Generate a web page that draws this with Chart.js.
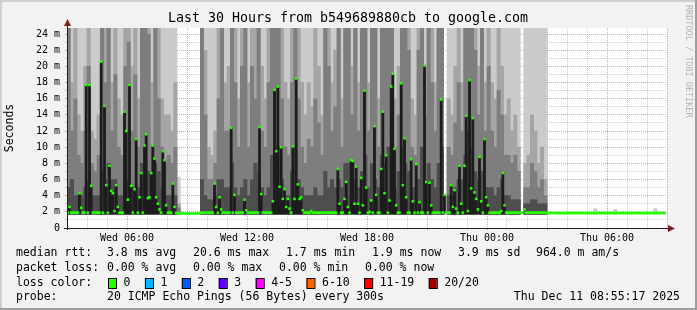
<!DOCTYPE html>
<html>
<head>
<meta charset="utf-8">
<title>Last 30 Hours from b549689880cb to google.com</title>
<script src="https://cdn.jsdelivr.net/npm/chart.js@4.4.1/dist/chart.umd.min.js"></script>
<style>
  html, body { margin: 0; padding: 0; background: #f2f2f2; }
  canvas { display: block; }
</style>
</head>
<body>
<canvas id="smokeChart" width="697" height="310"></canvas>
<script>
// time axis in hours since Wed 00:00
const startHour = 3;
const endHour = 33;
const yMax = 24.75;
const minRtt = 1.7; // lowest ping, the smoke starts here

const xTickHours = [6, 12, 18, 24, 30];
const xTickLabels = ['Wed 06:00', 'Wed 12:00', 'Wed 18:00', 'Thu 00:00', 'Thu 06:00'];
const yTickValues = [0, 2, 4, 6, 8, 10, 12, 14, 16, 18, 20, 22, 24];
const yTickLabels = ['0', '2 m', '4 m', '6 m', '8 m', '10 m', '12 m', '14 m', '16 m', '18 m', '20 m', '22 m', '24 m'];

// median rtt in ms, one value per 5 minutes, one row per hour (Wed 03:00 ...)
const medianRtt = [
    1.9, 2.6, 1.9, 1.9, 1.9, 1.9, 1.9, 4.3, 2.5, 1.9, 1.9, 17.7,
    1.9, 17.7, 5.2, 1.9, 1.9, 1.9, 1.9, 1.9, 20.6, 1.9, 15.1, 5.3,
    1.9, 7.7, 4.6, 4.3, 2.1, 5.3, 2.6, 1.9, 1.9, 1.9, 14.4, 12.0,
    3.5, 17.7, 5.2, 1.9, 4.8, 11.0, 1.9, 3.8, 6.8, 1.9, 10.2, 11.6,
    3.7, 3.8, 6.8, 10.2, 8.6, 3.8, 3.0, 2.3, 1.9, 9.5, 8.4, 2.8,
    1.9, 1.9, 1.9, 5.5, 2.6, 1.9, 1.8, 1.8, 1.8, 1.8, 1.8, 1.8,
    1.8, 1.8, 1.8, 1.8, 1.8, 1.8, 1.8, 1.8, 1.9, 1.9, 1.9, 1.9,
    1.9, 1.9, 1.9, 1.9, 5.5, 2.6, 1.9, 3.8, 2.3, 1.9, 1.9, 1.9,
    1.9, 1.9, 12.4, 1.9, 4.1, 1.9, 1.9, 1.9, 1.9, 1.9, 3.5, 2.2,
    1.9, 1.9, 1.9, 1.9, 1.9, 1.9, 1.9, 12.5, 4.2, 1.9, 1.9, 1.9,
    1.9, 1.9, 1.9, 3.3, 17.1, 9.5, 17.5, 5.1, 10.0, 3.6, 4.8, 2.6,
    3.6, 2.4, 1.9, 10.1, 3.6, 18.5, 5.4, 3.6, 3.8, 2.2, 1.9, 1.9,
    1.9, 1.9, 2.1, 1.9, 1.9, 1.9, 1.9, 1.9, 1.9, 1.9, 1.9, 1.9,
    1.9, 1.9, 1.9, 1.9, 1.9, 1.9, 7.3, 3.0, 1.9, 1.9, 3.6, 5.7,
    2.6, 1.9, 8.4, 8.3, 3.0, 7.6, 3.0, 1.9, 6.2, 2.8, 17.0, 5.0,
    1.9, 2.0, 3.4, 1.9, 12.6, 4.1, 1.9, 1.9, 7.3, 14.4, 4.3, 9.0,
    1.9, 3.4, 17.5, 19.1, 9.8, 2.8, 1.9, 1.9, 17.9, 5.3, 11.1, 3.8,
    1.9, 1.9, 8.5, 3.3, 1.9, 7.9, 1.9, 3.2, 1.9, 1.9, 20.1, 5.7,
    1.9, 5.6, 2.8, 1.9, 1.9, 1.9, 1.9, 1.9, 15.9, 1.9, 4.1, 1.9,
    1.9, 1.9, 5.3, 2.6, 4.7, 2.4, 1.9, 7.7, 3.0, 1.9, 7.7, 13.9,
    2.1, 18.3, 4.9, 13.6, 4.4, 3.6, 2.3, 8.8, 3.3, 1.9, 11.0, 3.8,
    2.8, 1.9, 1.9, 1.9, 1.9, 1.9, 1.9, 1.9, 2.1, 6.8, 2.8, 1.9,
    1.9, 1.9, 1.9, 1.9, 1.9, 1.9, 1.9, 1.9, 1.9, 1.9, 2.3, 1.9,
    1.9, 1.9, 1.9, 1.9, 1.9, 1.9, 1.9, 1.9, 1.9, 1.9, 1.9, 1.9,
    1.85, 1.85, 1.85, 1.85, 1.85, 1.85, 1.85, 1.85, 1.85, 1.85, 1.85, 1.85,
    1.85, 1.85, 1.85, 1.85, 1.85, 1.85, 1.85, 1.85, 1.85, 1.85, 1.85, 1.85,
    1.85, 1.85, 1.85, 1.85, 1.85, 1.85, 1.85, 1.85, 1.85, 1.85, 1.85, 1.85,
    1.85, 1.85, 1.85, 1.85, 1.85, 1.85, 1.85, 1.85, 1.85, 1.85, 1.85, 1.85,
    1.85, 1.85, 1.85, 1.85, 1.85, 1.85, 1.85, 1.85, 1.85, 1.85, 1.85, 1.85,
    1.85, 1.85, 1.85, 1.85, 1.85, 1.85, 1.85, 1.85, 1.85, 1.85, 1.85, null
];

// smoke: top of each grey band in ms, one value per 10 minutes, one row per hour
const smokeOuter = [
    25, 25, 25, 25, 25, 25,
    25, 25, 25, 25, 25, 25,
    25, 25, 25, 25, 25, 25,
    25, 25, 25, 25, 25, 25,
    25, 25, 25, 25, 25, 25,
    25, 25, 25, 6.3, 0, 0,
    0, 0, 0, 0, 25, 25,
    25, 25, 25, 25, 25, 25,
    25, 25, 25, 25, 25, 25,
    25, 25, 25, 25, 25, 25,
    25, 25, 25, 25, 25, 25,
    25, 25, 25, 25, 25, 25,
    25, 25, 25, 25, 25, 25,
    25, 25, 25, 25, 25, 25,
    25, 25, 25, 25, 25, 25,
    25, 25, 25, 25, 25, 25,
    25, 25, 25, 25, 25, 25,
    25, 25, 25, 25, 25, 25,
    25, 25, 25, 25, 25, 0,
    25, 25, 25, 25, 25, 25,
    25, 25, 25, 25, 25, 25,
    25, 25, 25, 25, 25, 25,
    25, 25, 25, 25, 0, 25,
    25, 25, 25, 25, 25, 25,
    0, 0, 0, 0, 0, 0,
    0, 0, 0, 0, 0, 0,
    0, 0, 2.4, 0, 0, 0,
    0, 0, 2.3, 0, 0, 0,
    0, 0, 0, 0, 0, 0,
    0, 0, 2.4, 0, 0, 0
];
const smokeUpper = [
    25, 18, 25, 14, 12, 20,
    25, 12, 11, 14, 25, 25,
    25, 18, 25, 16, 14, 25,
    25, 20, 25, 16, 25, 25,
    25, 18, 25, 25, 16, 14,
    14, 12, 18, 3, 0, 0,
    0, 0, 0, 0, 25, 22,
    10, 9, 12, 25, 25, 18,
    20, 25, 25, 16, 25, 25,
    18, 25, 25, 25, 20, 16,
    25, 25, 25, 25, 25, 18,
    16, 25, 25, 25, 18, 14,
    18, 15, 25, 20, 14, 25,
    25, 18, 22, 25, 16, 25,
    25, 20, 25, 18, 25, 25,
    18, 25, 25, 16, 25, 25,
    25, 25, 16, 20, 25, 25,
    25, 16, 14, 25, 25, 20,
    25, 25, 18, 25, 25, 0,
    16, 14, 20, 25, 18, 25,
    25, 25, 25, 20, 25, 18,
    25, 18, 16, 25, 20, 14,
    16, 12, 14, 10, 0, 8,
    9, 14, 12, 8, 10, 6,
    0, 0, 0, 0, 0, 0,
    0, 0, 0, 0, 0, 0,
    0, 0, 0, 0, 0, 0,
    0, 0, 0, 0, 0, 0,
    0, 0, 0, 0, 0, 0,
    0, 0, 0, 0, 0, 0
];
const smokeInner = [
    25, 12, 16, 9, 8, 12,
    20, 8, 7, 9, 25, 18,
    25, 12, 19, 10, 9, 20,
    23, 12, 19, 10, 25, 25,
    24, 10, 25, 16, 10, 8,
    9, 8, 10, 2.5, 0, 0,
    0, 0, 0, 0, 25, 14,
    6, 6, 8, 16, 25, 12,
    12, 25, 18, 10, 20, 25,
    10, 20, 16, 25, 12, 10,
    18, 25, 25, 25, 16, 10,
    9, 18, 25, 16, 10, 8,
    11, 10, 16, 13, 9, 25,
    20, 12, 15, 25, 10, 25,
    25, 14, 25, 12, 25, 25,
    12, 25, 25, 10, 25, 25,
    25, 25, 10, 14, 25, 25,
    22, 10, 9, 22, 25, 14,
    25, 18, 12, 25, 25, 0,
    10, 9, 13, 18, 12, 25,
    25, 25, 22, 14, 25, 12,
    20, 12, 10, 17, 14, 9,
    9, 8, 9, 7, 0, 5,
    5, 8, 7, 5, 6, 4,
    0, 0, 0, 0, 0, 0,
    0, 0, 0, 0, 0, 0,
    0, 0, 0, 0, 0, 0,
    0, 0, 0, 0, 0, 0,
    0, 0, 0, 0, 0, 0,
    0, 0, 0, 0, 0, 0
];
const smokeCore = [
    5, 6, 4, 4, 4, 5,
    6, 4, 4, 4, 7, 6,
    8, 6, 6, 4, 4, 6,
    6, 5, 5, 5, 8, 8,
    7, 5, 8, 7, 5, 4,
    4, 4, 4, 0, 0, 0,
    0, 0, 0, 0, 6, 4,
    3.5, 3.5, 4, 6, 6, 5,
    5, 8, 5, 4, 5, 6,
    4, 6, 8, 7, 5, 4,
    5, 9, 10, 10, 6, 4,
    4, 7, 10, 6, 5, 4,
    4, 4, 5, 4, 4, 7,
    5, 6, 5, 6, 5, 8,
    8, 6, 6, 5, 7, 9,
    5, 8, 6, 5, 9, 8,
    10, 9, 5, 7, 10, 8,
    7, 5, 5, 6, 10, 6,
    8, 6, 5, 8, 10, 0,
    4, 4, 5, 6, 6, 9,
    12, 10, 7, 6, 7, 5,
    5, 5, 4, 5, 6, 4,
    4, 3.5, 3.5, 3.5, 0, 3,
    3, 3.5, 3.5, 3, 3, 3,
    0, 0, 0, 0, 0, 0,
    0, 0, 0, 0, 0, 0,
    0, 0, 0, 0, 0, 0,
    0, 0, 0, 0, 0, 0,
    0, 0, 0, 0, 0, 0,
    0, 0, 0, 0, 0, 0
];

const titleText = 'Last 30 Hours from b549689880cb to google.com';
const rttStats = ['3.8 ms avg', '20.6 ms max', '1.7 ms min', '1.9 ms now', '3.9 ms sd', '964.0 m am/s'];
const lossStats = ['0.00 % avg', '0.00 % max', '0.00 % min', '0.00 % now'];
const lossLabels = ['0', '1', '2', '3', '4-5', '6-10', '11-19', '20/20'];
const lossColors = ['#26ff00', '#00b8ff', '#0059ff', '#5e00ff', '#ff00ff', '#ff5e00', '#ff0000', '#a10000'];
const probeText = '20 ICMP Echo Pings (56 Bytes) every 300s';
const stampText = 'Thu Dec 11 08:55:17 2025';

const pingStep = 5 / 60;
const smokeStep = 10 / 60;
const MONO = '"DejaVu Sans Mono", monospace';

function smokeBars(tops) {
    return tops.map(function (h, i) {
        return { x: startHour + (i + 0.5) * smokeStep, y: h > 0 ? [minRtt, h] : null };
    });
}

const medianPoints = [];
const darkColumns = [];
medianRtt.forEach(function (m, i) {
    if (m === null) return;
    const t = startHour + (i + 0.5) * pingStep;
    medianPoints.push({ x: t, y: m });
    if (m > 2.5) {
        darkColumns.push({ x: t, y: minRtt }, { x: t, y: m }, { x: t, y: null });
    }
});

function barSet(data, color) {
    return {
        type: 'bar', data: data, backgroundColor: color, borderWidth: 0,
        grouped: false, barPercentage: 1, categoryPercentage: 1, clip: 0
    };
}

const rrdFrame = {
    id: 'rrdFrame',
    beforeDraw: function (chart) {
        const c = chart.ctx, a = chart.chartArea, w = chart.width, h = chart.height;
        c.save();
        c.fillStyle = '#f2f2f2';
        c.fillRect(0, 0, w, h);
        c.fillStyle = '#cfcfcf';
        c.fillRect(0, 0, w, 2);
        c.fillRect(0, 0, 2, h);
        c.fillStyle = '#9e9e9e';
        c.fillRect(0, h - 2, w, 2);
        c.fillRect(w - 2, 0, 2, h);
        c.fillStyle = '#ffffff';
        c.fillRect(a.left, a.top, a.right - a.left, a.bottom - a.top);
        c.restore();
    },
    afterDraw: function (chart) {
        const c = chart.ctx, a = chart.chartArea;
        c.save();
        // axes with arrows
        c.strokeStyle = '#1f1f1f';
        c.lineWidth = 1;
        c.beginPath();
        c.moveTo(a.left - 3, a.bottom + 0.5);
        c.lineTo(a.right + 3, a.bottom + 0.5);
        c.moveTo(a.left + 0.5, a.bottom + 2);
        c.lineTo(a.left + 0.5, a.top - 4);
        c.stroke();
        c.fillStyle = '#801f1f';
        c.beginPath();
        c.moveTo(a.right + 1, a.bottom - 3);
        c.lineTo(a.right + 8, a.bottom + 0.5);
        c.lineTo(a.right + 1, a.bottom + 4);
        c.closePath();
        c.fill();
        c.beginPath();
        c.moveTo(a.left - 3, a.top - 2);
        c.lineTo(a.left + 0.5, a.top - 9);
        c.lineTo(a.left + 4, a.top - 2);
        c.closePath();
        c.fill();

        c.fillStyle = '#000';
        c.textBaseline = 'middle';
        c.font = '13.3px ' + MONO;
        c.textAlign = 'center';
        c.fillText(titleText, 348, 19);

        c.font = '11.5px ' + MONO;
        c.save();
        c.translate(10, 128);
        c.rotate(-Math.PI / 2);
        c.fillText('Seconds', 0, 0);
        c.restore();

        c.textAlign = 'left';
        c.fillText('median rtt:', 16, 253);
        [107, 193, 286, 372, 458, 536].forEach(function (x, i) { c.fillText(rttStats[i], x, 253); });
        c.fillText('packet loss:', 16, 268);
        [107, 193, 279, 365].forEach(function (x, i) { c.fillText(lossStats[i], x, 268); });
        c.fillText('loss color:', 16, 283);
        let bx = 108;
        lossLabels.forEach(function (lbl, i) {
            c.fillStyle = lossColors[i];
            c.fillRect(bx, 278, 8, 10);
            c.strokeStyle = '#000';
            c.strokeRect(bx + 0.5, 278.5, 8, 10);
            c.fillStyle = '#000';
            c.fillText(lbl, bx + 15.5, 283);
            bx += 15.5 + c.measureText(lbl).width + 14.5;
        });
        c.fillText('probe:', 16, 297);
        c.fillText(probeText, 107, 297);
        c.textAlign = 'right';
        c.fillText(stampText, 680, 297);

        c.fillStyle = '#b4b4b4';
        c.font = '8.5px ' + MONO;
        c.textAlign = 'left';
        c.translate(688, 5);
        c.rotate(Math.PI / 2);
        c.fillText('RRDTOOL / TOBI OETIKER', 0, 0);
        c.restore();
    }
};

const majorGrid = 'rgba(222, 80, 80, 0.55)';
const minorGrid = 'rgba(143, 143, 143, 0.45)';

new Chart(document.getElementById('smokeChart').getContext('2d'), {
    type: 'bar',
    data: {
        datasets: [
            {
                type: 'line', data: medianPoints, showLine: false, pointStyle: 'rect',
                pointRadius: 1.8, pointHoverRadius: 1.8, pointBorderWidth: 0,
                pointBackgroundColor: lossColors[0], clip: 0
            },
            {
                type: 'line', data: darkColumns, borderColor: '#1c1c1c', borderWidth: 2.8,
                pointRadius: 0, spanGaps: false, borderCapStyle: 'butt', clip: 0
            },
            barSet(smokeBars(smokeCore), '#4e4e4e'),
            barSet(smokeBars(smokeInner), '#7e7e7e'),
            barSet(smokeBars(smokeUpper), '#a5a5a5'),
            barSet(smokeBars(smokeOuter), '#cbcbcb')
        ]
    },
    options: {
        responsive: false,
        animation: false,
        events: [],
        layout: { padding: { left: 0, right: 30, top: 28, bottom: 0 } },
        plugins: { legend: { display: false }, tooltip: { enabled: false }, title: { display: false } },
        scales: {
            x: {
                type: 'linear', min: startHour, max: endHour, offset: false, z: 1,
                grid: {
                    offset: false, tickLength: 2, lineWidth: 1,
                    color: function (ctx) { return ctx.tick && ctx.tick.value % 3 === 0 ? majorGrid : minorGrid; }
                },
                border: { display: false, dash: [1, 1] },
                ticks: {
                    stepSize: 1, autoSkip: false, maxRotation: 0, includeBounds: false, padding: 2,
                    color: '#000', font: { family: MONO, size: 10 },
                    callback: function (v) {
                        const k = xTickHours.indexOf(v);
                        return k >= 0 ? xTickLabels[k] : '';
                    }
                },
                afterFit: function (scale) { scale.height = 82; }
            },
            y: {
                min: 0, max: yMax, z: 1,
                grid: {
                    tickLength: 2, lineWidth: 1,
                    color: function (ctx) { return ctx.tick && ctx.tick.value % 2 === 0 ? majorGrid : minorGrid; }
                },
                border: { display: false, dash: [1, 1] },
                ticks: {
                    stepSize: 1, autoSkip: false, includeBounds: false, padding: 5,
                    color: '#000', font: { family: MONO, size: 10 },
                    callback: function (v) {
                        const k = yTickValues.indexOf(v);
                        return k >= 0 ? yTickLabels[k] : '';
                    }
                },
                afterFit: function (scale) { scale.width = 67; }
            }
        }
    },
    plugins: [rrdFrame]
});
</script>
</body>
</html>
